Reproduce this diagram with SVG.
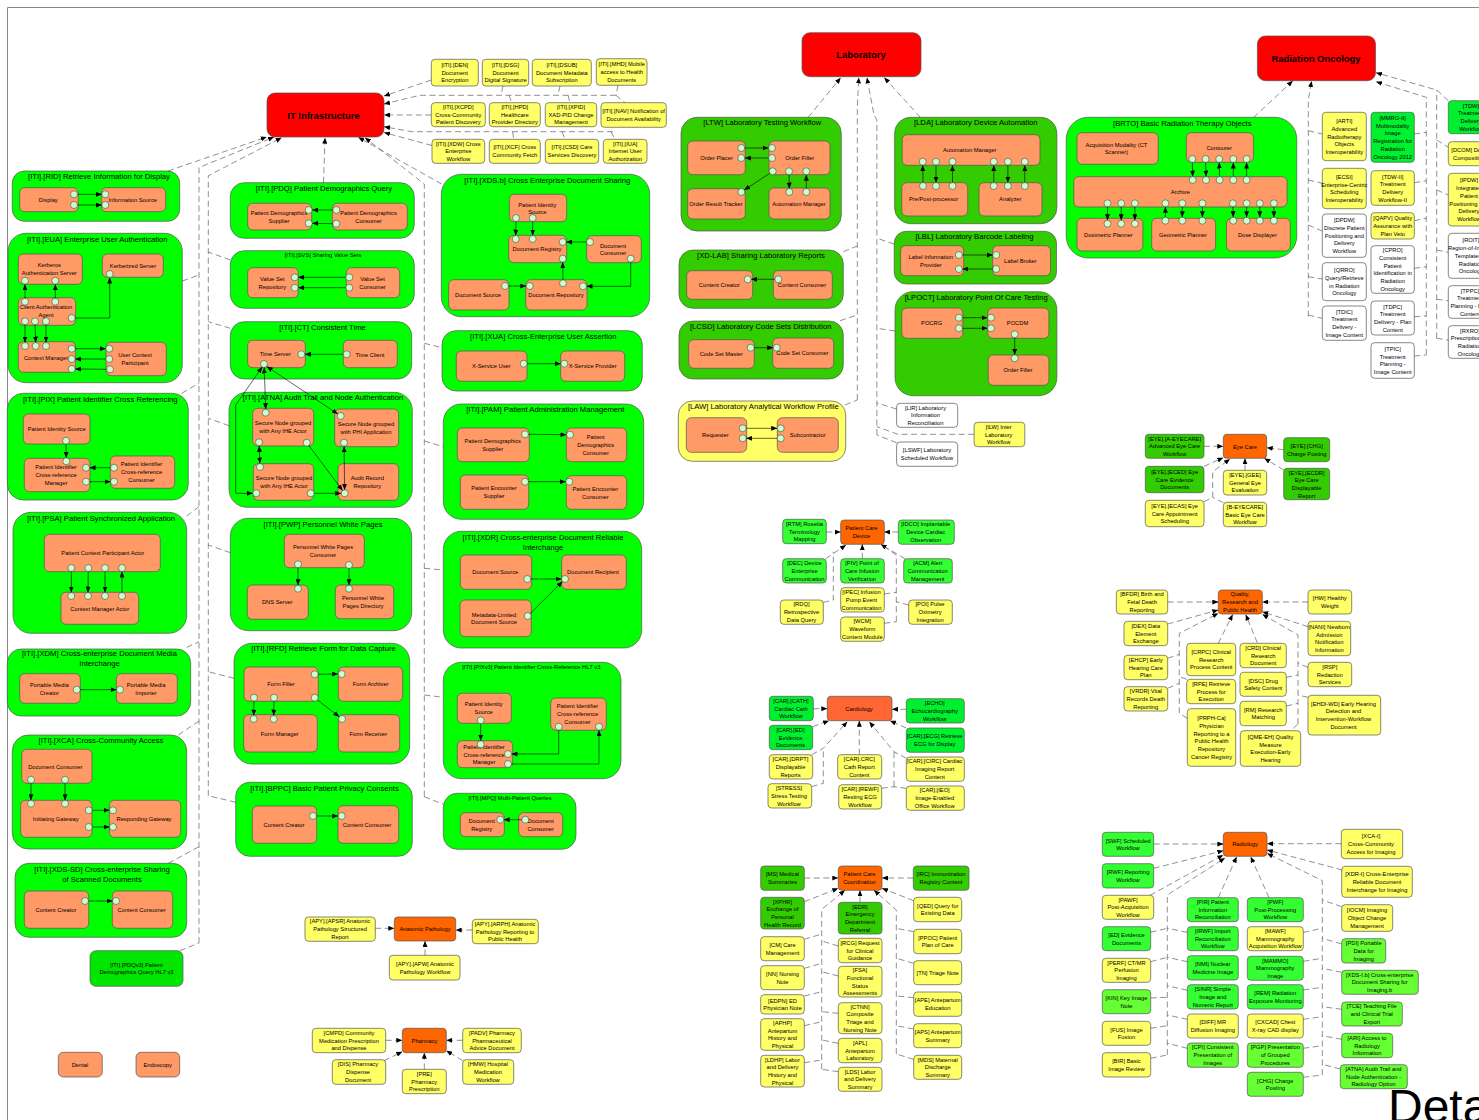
<svg xmlns="http://www.w3.org/2000/svg" width="1479" height="1120" viewBox="0 0 1479 1120">
<style>
text{font-family:"Liberation Sans",Arial,sans-serif;font-size:5.75px;text-anchor:middle;fill:#000}
.t{font-size:7.65px}
.h{font-size:9.45px;font-weight:bold}
.big{font-size:48px;text-anchor:start}
rect{stroke:#555;stroke-width:.7}
.y,.w,.lg,.lm,.dn,.gn,.or,.cr,.a{rx:3.5px}
.y{fill:#ffff66}.w{fill:#fff}.lg{fill:#33ff33}.lm{fill:#66ff33}.dn{fill:#33cc00}.gn{fill:#00f030}
.or{fill:#ff6600}.cr{fill:#ff6633}.r{fill:#ff0000;rx:8px}
.a{fill:#ff9966;rx:5px}
.G{fill:#00ff00}.D{fill:#33cc00}.Y{fill:#ffff66}
.p{fill:#ccffcc;stroke:#444;stroke-width:.6;r:3.5px}
#connectors path{fill:none}
.s{stroke:#000;stroke-width:.6;marker-end:url(#ah)}
.sb{stroke:#000;stroke-width:.6;marker-end:url(#ah);marker-start:url(#ah)}
.d{stroke:#444;stroke-width:.6;stroke-dasharray:6 3.5;marker-end:url(#ah)}
.e{stroke:#444;stroke-width:.6;stroke-dasharray:6 3.5}
</style>
<defs><marker id="ah" markerUnits="userSpaceOnUse" markerWidth="6" markerHeight="5" viewBox="0 0 6 5" refX="6" refY="2.5" orient="auto-start-reverse"><path d="M0,0L6,2.5L0,5z" fill="#000"/></marker></defs>
<path id="frame" d="M7.5,1120V7.5H1479" fill="none" stroke="#888" stroke-width="1"/>

<g id="it-infrastructure"><rect class="r" x="267" y="93" width="117" height="44"/><text class="h" x="323.5" y="118.5">IT Infrastructure</text></g>
<g id="n-DEN"><rect class="y" x="431.3" y="59.3" width="47" height="26.7"/><text x="454.8" y="67"><tspan x="454.8">[ITI].[DEN]</tspan><tspan x="454.8" dy="7.7">Document</tspan><tspan x="454.8" dy="7.7">Encryption</tspan></text></g>
<g id="n-DSG"><rect class="y" x="482.3" y="59.3" width="46.4" height="26.7"/><text x="505.5" y="67"><tspan x="505.5">[ITI].[DSG]</tspan><tspan x="505.5" dy="7.7">Document</tspan><tspan x="505.5" dy="7.7">Digital Signature</tspan></text></g>
<g id="n-DSUB"><rect class="y" x="532.3" y="59.3" width="59" height="26.7"/><text x="561.8" y="67"><tspan x="561.8">[ITI].[DSUB]</tspan><tspan x="561.8" dy="7.7">Document Metadata</tspan><tspan x="561.8" dy="7.7">Subscription</tspan></text></g>
<g id="n-MHD"><rect class="y" x="596.3" y="58.7" width="50.7" height="26.6"/><text x="621.7" y="66.3"><tspan x="621.7">[ITI].[MHD] Mobile</tspan><tspan x="621.7" dy="7.7">access to Health</tspan><tspan x="621.7" dy="7.7">Documents</tspan></text></g>
<g id="n-XCPD"><rect class="y" x="431.3" y="102.7" width="54" height="24"/><text x="458.3" y="109"><tspan x="458.3">[ITI].[XCPD]</tspan><tspan x="458.3" dy="7.7">Cross-Community</tspan><tspan x="458.3" dy="7.7">Patient Discovery</tspan></text></g>
<g id="n-HPD"><rect class="y" x="489.3" y="102.7" width="51" height="24"/><text x="514.8" y="109"><tspan x="514.8">[ITI].[HPD]</tspan><tspan x="514.8" dy="7.7">Healthcare</tspan><tspan x="514.8" dy="7.7">Provider Directory</tspan></text></g>
<g id="n-XPID"><rect class="y" x="545.3" y="102.7" width="51.4" height="24"/><text x="571" y="109"><tspan x="571">[ITI].[XPID]</tspan><tspan x="571" dy="7.7">XAD-PID Change</tspan><tspan x="571" dy="7.7">Management</tspan></text></g>
<g id="n-NAV"><rect class="y" x="601" y="102.7" width="65.3" height="24.6"/><text x="633.7" y="113.1"><tspan x="633.7">[ITI].[NAV] Notification of</tspan><tspan x="633.7" dy="7.7">Document Availability</tspan></text></g>
<g id="n-XDW"><rect class="y" x="432" y="139.3" width="52.7" height="24"/><text x="458.3" y="145.6"><tspan x="458.3">[ITI].[XDW] Cross</tspan><tspan x="458.3" dy="7.7">Enterprise</tspan><tspan x="458.3" dy="7.7">Workflow</tspan></text></g>
<g id="n-XCF"><rect class="y" x="489.3" y="139.3" width="51" height="24"/><text x="514.8" y="149.4"><tspan x="514.8">[ITI].[XCF] Cross</tspan><tspan x="514.8" dy="7.7">Community Fetch</tspan></text></g>
<g id="n-CSD"><rect class="y" x="545.3" y="139.3" width="53.4" height="24"/><text x="572" y="149.4"><tspan x="572">[ITI].[CSD] Care</tspan><tspan x="572" dy="7.7">Services Discovery</tspan></text></g>
<g id="n-IUA"><rect class="y" x="603.3" y="139.3" width="43.7" height="24"/><text x="625.2" y="145.6"><tspan x="625.2">[ITI].[IUA]</tspan><tspan x="625.2" dy="7.7">Internet User</tspan><tspan x="625.2" dy="7.7">Authorization</tspan></text></g>

<g id="n-RID"><rect class="G" x="12.3" y="171" width="167.4" height="50.3" rx="12"/><text class="t" x="99" y="179">[ITI].[RID] Retrieve Information for Display</text>
<rect class="a" x="19.7" y="187.7" width="58.6" height="24"/><text x="48.3" y="202">Display</text>
<rect class="a" x="101.3" y="187.7" width="64.4" height="24"/><text x="132.7" y="202">Information Source</text>
<circle class="p" cx="74" cy="194.3"/><circle class="p" cx="74" cy="205"/><circle class="p" cx="105.3" cy="194.3"/><circle class="p" cx="105.3" cy="205"/></g>

<g id="n-EUA"><rect class="G" x="8" y="233.3" width="174.3" height="149.4" rx="18"/><text class="t" x="97.3" y="241.7">[ITI].[EUA] Enterprise User Authentication</text>
<rect class="a" x="18.3" y="254" width="64" height="30.3"/><text x="49.3" y="267.1"><tspan x="49.3">Kerberos</tspan><tspan x="49.3" dy="7.7">Authentication Server</tspan></text>
<rect class="a" x="102.3" y="254" width="61" height="23.3"/><text x="133" y="267.7">Kerberized Server</text>
<rect class="a" x="18.3" y="297.7" width="57.4" height="27.6"/><text x="46" y="309.1"><tspan x="46">Client Authentication</tspan><tspan x="46" dy="7.7">Agent</tspan></text>
<rect class="a" x="18.3" y="341.7" width="57.4" height="30.6"/><text x="46" y="359.5">Context Manager</text>
<rect class="a" x="106" y="342.3" width="60.3" height="33.4"/><text x="135" y="357.1"><tspan x="135">User Context</tspan><tspan x="135" dy="7.7">Participant</tspan></text>
<circle class="p" cx="25" cy="280.7"/><circle class="p" cx="55.3" cy="280.7"/><circle class="p" cx="109.7" cy="274"/><circle class="p" cx="25" cy="301.7"/><circle class="p" cx="55.3" cy="301.7"/><circle class="p" cx="71.7" cy="318"/><circle class="p" cx="25" cy="321.3"/><circle class="p" cx="35" cy="321.3"/><circle class="p" cx="46" cy="321.3"/><circle class="p" cx="25" cy="346"/><circle class="p" cx="35.7" cy="346"/><circle class="p" cx="46" cy="346"/><circle class="p" cx="71.7" cy="348.7"/><circle class="p" cx="71.7" cy="359"/><circle class="p" cx="71.7" cy="369"/><circle class="p" cx="109.3" cy="348.7"/><circle class="p" cx="109.3" cy="359"/><circle class="p" cx="110" cy="369.3"/></g>

<g id="n-PIX"><rect class="G" x="7.3" y="393.3" width="181" height="106.7" rx="16"/><text class="t" x="100.3" y="401.7">[ITI].[PIX] Patient Identifier Cross Referencing</text>
<rect class="a" x="23.3" y="414" width="66.7" height="30"/><text x="56.7" y="431">Patient Identity Source</text>
<rect class="a" x="24.3" y="458.3" width="65.7" height="33.4"/><text x="56" y="469.3"><tspan x="56">Patient Identifier</tspan><tspan x="56" dy="7.7">Cross-reference</tspan><tspan x="56" dy="7.7">Manager</tspan></text>
<rect class="a" x="110.3" y="456" width="64.4" height="32.3"/><text x="141.5" y="466.3"><tspan x="141.5">Patient Identifier</tspan><tspan x="141.5" dy="7.7">Cross-reference</tspan><tspan x="141.5" dy="7.7">Consumer</tspan></text>
<circle class="p" cx="66" cy="440.7"/><circle class="p" cx="66.3" cy="461.3"/><circle class="p" cx="86" cy="467.7"/><circle class="p" cx="86" cy="481.7"/><circle class="p" cx="114" cy="467.7"/><circle class="p" cx="114" cy="481.7"/></g>

<g id="n-PSA"><rect class="G" x="13" y="512.3" width="173.7" height="121" rx="18"/><text class="t" x="101" y="521">[ITI].[PSA] Patient Synchronized Application</text>
<rect class="a" x="44.3" y="534.3" width="116" height="37.4" rx="8"/><text x="102.7" y="555.3">Patient Context Participant Actor</text>
<rect class="a" x="61" y="592.3" width="77.7" height="32"/><text x="99.7" y="610.7">Context Manager Actor</text>
<circle class="p" cx="71.3" cy="568"/><circle class="p" cx="88.3" cy="568"/><circle class="p" cx="105" cy="568"/><circle class="p" cx="122" cy="568"/><circle class="p" cx="71.3" cy="596"/><circle class="p" cx="88" cy="596"/><circle class="p" cx="105" cy="596"/><circle class="p" cx="122" cy="596"/></g>

<g id="n-XDM"><rect class="G" x="7.3" y="649" width="183.4" height="67" rx="14"/><text class="t" x="99.5" y="656"><tspan x="99.5">[ITI].[XDM] Cross-enterprise Document Media</tspan><tspan x="99.5" dy="10">Interchange</tspan></text>
<rect class="a" x="19.7" y="673.7" width="60.6" height="29.6"/><text x="49.3" y="687.1"><tspan x="49.3">Portable Media</tspan><tspan x="49.3" dy="7.7">Creator</tspan></text>
<rect class="a" x="116.3" y="673.7" width="61" height="29.6"/><text x="146" y="687.1"><tspan x="146">Portable Media</tspan><tspan x="146" dy="7.7">Importer</tspan></text>
<circle class="p" cx="76.7" cy="689.7"/><circle class="p" cx="120" cy="689.7"/></g>

<g id="n-XCA"><rect class="G" x="12.3" y="735" width="174.4" height="114" rx="16"/><text class="t" x="101" y="743.4">[ITI].[XCA] Cross-Community Access</text>
<rect class="a" x="21.7" y="749.3" width="70.3" height="34"/><text x="55.3" y="768.7">Document Consumer</text>
<rect class="a" x="20.7" y="800.3" width="71.3" height="37"/><text x="55.7" y="821">Initiating Gateway</text>
<rect class="a" x="109.3" y="800.3" width="71.4" height="37"/><text x="144" y="821">Responding Gateway</text>
<circle class="p" cx="31" cy="779.7"/><circle class="p" cx="65" cy="779.7"/><circle class="p" cx="31" cy="803.7"/><circle class="p" cx="65" cy="803.7"/><circle class="p" cx="88.7" cy="810.3"/><circle class="p" cx="88.7" cy="827"/><circle class="p" cx="113" cy="810.3"/><circle class="p" cx="113" cy="827"/></g>

<g id="n-XDSSD"><rect class="G" x="15" y="863.3" width="171.7" height="74" rx="14"/><text class="t" x="102" y="872"><tspan x="102">[ITI].[XDS-SD] Cross-enterprise Sharing</tspan><tspan x="102" dy="10">of Scanned Documents</tspan></text>
<rect class="a" x="24.3" y="891" width="64.4" height="37.3"/><text x="56" y="911.7">Content Creator</text>
<rect class="a" x="112.3" y="891" width="60.4" height="37.3"/><text x="141.7" y="912">Content Consumer</text>
<circle class="p" cx="85" cy="901"/><circle class="p" cx="116" cy="901"/></g>

<g id="n-PDQv3"><rect x="90" y="950.7" width="93" height="35.6" rx="6" fill="#00e600"/><text x="136.5" y="966.6"><tspan x="136.5">[ITI].[PDQv3] Patient</tspan><tspan x="136.5" dy="7.7">Demographics Query HL7 v3</tspan></text></g>
<g id="n-Dental"><rect class="a" x="58.3" y="1052.3" width="44" height="24.7"/><text x="80" y="1067">Dental</text></g>
<g id="n-Endoscopy"><rect class="a" x="136" y="1052.3" width="43.7" height="24.7"/><text x="157.7" y="1067">Endoscopy</text></g>

<g id="n-PDQ"><rect class="G" x="230.3" y="182.7" width="184" height="55.6" rx="14"/><text class="t" x="324" y="191">[ITI].[PDQ] Patient Demographics Query</text>
<rect class="a" x="247.7" y="203.3" width="64" height="26.7"/><text x="279" y="214.8"><tspan x="279">Patient Demographics</tspan><tspan x="279" dy="7.7">Supplier</tspan></text>
<rect class="a" x="332.3" y="203.3" width="75" height="26.7"/><text x="368.5" y="214.8"><tspan x="368.5">Patient Demographics</tspan><tspan x="368.5" dy="7.7">Consumer</tspan></text>
<circle class="p" cx="308.7" cy="210"/><circle class="p" cx="308.7" cy="223.3"/><circle class="p" cx="336.3" cy="210"/><circle class="p" cx="336.3" cy="223.7"/></g>

<g id="n-SVS"><rect class="G" x="230.3" y="250.7" width="184" height="57.6" rx="14"/><text x="323" y="257">[ITI].[SVS] Sharing Value Sets</text>
<rect class="a" x="247.7" y="267.7" width="50.6" height="30"/><text x="272.3" y="280.8"><tspan x="272.3">Value Set</tspan><tspan x="272.3" dy="7.7">Repository</tspan></text>
<rect class="a" x="346.3" y="267.7" width="53.4" height="30"/><text x="372.5" y="280.8"><tspan x="372.5">Value Set</tspan><tspan x="372.5" dy="7.7">Consumer</tspan></text>
<circle class="p" cx="294.7" cy="277.3"/><circle class="p" cx="294.7" cy="287.7"/><circle class="p" cx="349.3" cy="277.3"/><circle class="p" cx="349.3" cy="287.7"/></g>

<g id="n-CT"><rect class="G" x="230.3" y="321.7" width="181.4" height="57.3" rx="14"/><text class="t" x="322.5" y="330">[ITI].[CT] Consistent Time</text>
<rect class="a" x="247.7" y="340.3" width="57.6" height="27.4"/><text x="275.3" y="356">Time Server</text>
<rect class="a" x="343.3" y="340.3" width="54" height="27.4"/><text x="370" y="356.7">Time Client</text>
<circle class="p" cx="301.3" cy="354.3"/><circle class="p" cx="346.7" cy="354.3"/><circle class="p" cx="264" cy="364"/></g>

<g id="n-ATNA"><rect class="G" x="229" y="392.3" width="183.3" height="115" rx="18"/><text class="t" x="323" y="400">[ITI].[ATNA] Audit Trail and Node Authentication</text>
<rect class="a" x="252.7" y="408.3" width="61" height="37.7"/><text x="283" y="425.1"><tspan x="283">Secure Node grouped</tspan><tspan x="283" dy="7.7">with Any IHE Actor</tspan></text>
<rect class="a" x="334.7" y="409" width="64" height="37.7"/><text x="366" y="426.1"><tspan x="366">Secure Node grouped</tspan><tspan x="366" dy="7.7">with PHI Application</tspan></text>
<rect class="a" x="253.3" y="463.7" width="60.4" height="36.6"/><text x="284" y="480.4"><tspan x="284">Secure Node grouped</tspan><tspan x="284" dy="7.7">with Any IHE Actor</tspan></text>
<rect class="a" x="338" y="463.7" width="60.7" height="36.6"/><text x="367.3" y="480.4"><tspan x="367.3">Audit Record</tspan><tspan x="367.3" dy="7.7">Repository</tspan></text>
<circle class="p" cx="265.7" cy="412.7"/><circle class="p" cx="340.7" cy="416"/><circle class="p" cx="259" cy="442.3"/><circle class="p" cx="306.7" cy="442.7"/><circle class="p" cx="344" cy="442.7"/><circle class="p" cx="260" cy="467"/><circle class="p" cx="256.3" cy="493.3"/><circle class="p" cx="310.7" cy="493.3"/><circle class="p" cx="344.7" cy="493.3"/></g>

<g id="n-PWP"><rect class="G" x="230.3" y="518.3" width="181.4" height="112.4" rx="18"/><text class="t" x="323" y="526.7">[ITI].[PWP] Personnel White Pages</text>
<rect class="a" x="284.3" y="534.3" width="80" height="33.4"/><text x="323" y="549.1"><tspan x="323">Personnel White Pages</tspan><tspan x="323" dy="7.7">Consumer</tspan></text>
<rect class="a" x="247.3" y="585" width="61" height="34.3"/><text x="277.3" y="604">DNS Server</text>
<rect class="a" x="335.3" y="585" width="58.4" height="33.7"/><text x="363" y="600.1"><tspan x="363">Personnel White</tspan><tspan x="363" dy="7.7">Pages Directory</tspan></text>
<circle class="p" cx="298" cy="564.3"/><circle class="p" cx="349" cy="565"/><circle class="p" cx="298" cy="588.7"/><circle class="p" cx="349" cy="588.7"/></g>

<g id="n-RFD"><rect class="G" x="234" y="643.3" width="175.7" height="120.7" rx="18"/><text class="t" x="323.5" y="651.4">[ITI].[RFD] Retrieve Form for Data Capture</text>
<rect class="a" x="244" y="667" width="74.3" height="34.3"/><text x="281" y="686">Form Filler</text>
<rect class="a" x="338.3" y="667" width="64.4" height="34.3"/><text x="370.7" y="686">Form Archiver</text>
<rect class="a" x="243.7" y="714.7" width="73.6" height="37.3"/><text x="279.7" y="735.7">Form Manager</text>
<rect class="a" x="338.3" y="714.7" width="61.4" height="37.3"/><text x="368.3" y="735.7">Form Receiver</text>
<circle class="p" cx="314.7" cy="674.3"/><circle class="p" cx="341.7" cy="674"/><circle class="p" cx="254" cy="697.7"/><circle class="p" cx="274" cy="697.7"/><circle class="p" cx="314.7" cy="697.7"/><circle class="p" cx="253.7" cy="719"/><circle class="p" cx="273.7" cy="719"/><circle class="p" cx="342" cy="719"/></g>

<g id="n-BPPC"><rect class="G" x="235.7" y="782.3" width="176.6" height="74" rx="14"/><text class="t" x="324.5" y="791">[ITI].[BPPC] Basic Patient Privacy Consents</text>
<rect class="a" x="252.3" y="806" width="64.4" height="37.3"/><text x="284" y="826.7">Content Creator</text>
<rect class="a" x="338" y="805.7" width="60.7" height="37.6"/><text x="367" y="826.7">Content Consumer</text>
<circle class="p" cx="313" cy="816"/><circle class="p" cx="341.7" cy="816"/></g>

<g id="n-XDSb"><rect class="G" x="441.3" y="174.3" width="208.4" height="142.4" rx="20"/><text class="t" x="547.3" y="182.7">[ITI].[XDS.b] Cross Enterprise Document Sharing</text>
<rect class="a" x="509.3" y="194.3" width="57.4" height="27.4"/><text x="537.3" y="206.6"><tspan x="537.3">Patient Identity</tspan><tspan x="537.3" dy="7.7">Source</tspan></text>
<rect class="a" x="508.7" y="235.3" width="58" height="27.4"/><text x="537" y="251">Document Registry</text>
<rect class="a" x="586.7" y="235.7" width="54.6" height="27"/><text x="613" y="247.6"><tspan x="613">Document</tspan><tspan x="613" dy="7.7">Consumer</tspan></text>
<rect class="a" x="448.7" y="279.7" width="60.3" height="30.3"/><text x="478" y="297">Document Source</text>
<rect class="a" x="525.7" y="279.7" width="61.3" height="30.3"/><text x="556" y="297">Document Repository</text>
<circle class="p" cx="516" cy="218"/><circle class="p" cx="532.7" cy="218"/><circle class="p" cx="515.7" cy="239"/><circle class="p" cx="532.7" cy="239"/><circle class="p" cx="562.7" cy="242"/><circle class="p" cx="590" cy="242"/><circle class="p" cx="562.7" cy="258.7"/><circle class="p" cx="630.7" cy="258.7"/><circle class="p" cx="505" cy="286"/><circle class="p" cx="529.7" cy="286"/><circle class="p" cx="563" cy="283.3"/><circle class="p" cx="583" cy="286.3"/></g>

<g id="n-XUA"><rect class="G" x="442" y="330.7" width="200.3" height="60.3" rx="14"/><text class="t" x="543.3" y="338.7">[ITI].[XUA] Cross-Enterprise User Assertion</text>
<rect class="a" x="456.3" y="351" width="70.7" height="30.3"/><text x="491.3" y="368">X-Service User</text>
<rect class="a" x="560.7" y="351" width="64" height="30.3"/><text x="592.7" y="368">X-Service Provider</text>
<circle class="p" cx="523.7" cy="363.7"/><circle class="p" cx="564.3" cy="363.7"/></g>

<g id="n-PAM"><rect class="G" x="443.3" y="404" width="200.4" height="115.3" rx="18"/><text class="t" x="545.3" y="412.4">[ITI].[PAM] Patient Administration Management</text>
<rect class="a" x="457.3" y="428" width="72" height="33.7"/><text x="492.7" y="443.1"><tspan x="492.7">Patient Demographics</tspan><tspan x="492.7" dy="7.7">Supplier</tspan></text>
<rect class="a" x="566.3" y="428" width="60.4" height="33.7"/><text x="595.7" y="439.3"><tspan x="595.7">Patient</tspan><tspan x="595.7" dy="7.7">Demographics</tspan><tspan x="595.7" dy="7.7">Consumer</tspan></text>
<rect class="a" x="460.3" y="475" width="68.4" height="34.3"/><text x="494" y="490.1"><tspan x="494">Patient Encounter</tspan><tspan x="494" dy="7.7">Supplier</tspan></text>
<rect class="a" x="566.3" y="475.7" width="60.4" height="33.6"/><text x="595.3" y="490.8"><tspan x="595.3">Patient Encounter</tspan><tspan x="595.3" dy="7.7">Consumer</tspan></text>
<circle class="p" cx="525" cy="434.3"/><circle class="p" cx="570" cy="434.7"/><circle class="p" cx="525" cy="481.7"/><circle class="p" cx="569.3" cy="481.7"/></g>

<g id="n-XDR"><rect class="G" x="443.3" y="531.3" width="198.4" height="116.7" rx="18"/><text class="t" x="543" y="539.7"><tspan x="543">[ITI].[XDR] Cross-enterprise Document Reliable</tspan><tspan x="543" dy="10">Interchange</tspan></text>
<rect class="a" x="460.3" y="555" width="71.4" height="34.3"/><text x="495.3" y="574">Document Source</text>
<rect class="a" x="561.7" y="555" width="64.6" height="34.3"/><text x="593" y="574">Document Recipient</text>
<rect class="a" x="460" y="600" width="71.3" height="36.7"/><text x="494" y="616.6"><tspan x="494">Metadata-Limited</tspan><tspan x="494" dy="7.7">Document Source</tspan></text>
<circle class="p" cx="527.3" cy="579"/><circle class="p" cx="565" cy="579"/><circle class="p" cx="527.7" cy="616"/></g>

<g id="n-PIXv3"><rect class="G" x="443.3" y="662.3" width="177.7" height="116.4" rx="18"/><text x="531.3" y="668.7">[ITI].[PIXv3] Patient Identifier Cross-Reference HL7 v3</text>
<rect class="a" x="457.3" y="693.3" width="54" height="30"/><text x="483.7" y="706.1"><tspan x="483.7">Patient Identity</tspan><tspan x="483.7" dy="7.7">Source</tspan></text>
<rect class="a" x="457.3" y="740.7" width="55.4" height="27"/><text x="484" y="748.8"><tspan x="484">Patient Identifier</tspan><tspan x="484" dy="7.7">Cross-reference</tspan><tspan x="484" dy="7.7">Manager</tspan></text>
<rect class="a" x="550.7" y="698" width="55.6" height="32.3"/><text x="577.5" y="708.3"><tspan x="577.5">Patient Identifier</tspan><tspan x="577.5" dy="7.7">Cross-reference</tspan><tspan x="577.5" dy="7.7">Consumer</tspan></text>
<circle class="p" cx="480.7" cy="720.3"/><circle class="p" cx="480.7" cy="744.3"/><circle class="p" cx="508" cy="754"/><circle class="p" cx="508" cy="764"/><circle class="p" cx="558.7" cy="726.7"/><circle class="p" cx="599" cy="726.7"/></g>

<g id="n-MPQ"><rect class="G" x="443.3" y="793.3" width="132.7" height="56" rx="14"/><text x="510" y="799.7">[ITI].[MPQ] Multi-Patient Queries</text>
<rect class="a" x="460.3" y="812.7" width="44" height="24"/><text x="481.7" y="823.1"><tspan x="481.7">Document</tspan><tspan x="481.7" dy="7.7">Registry</tspan></text>
<rect class="a" x="518.7" y="812.7" width="44" height="24"/><text x="540.7" y="823.1"><tspan x="540.7">Document</tspan><tspan x="540.7" dy="7.7">Consumer</tspan></text>
<circle class="p" cx="500.3" cy="819.7"/><circle class="p" cx="525.3" cy="819.7"/></g>

<g id="laboratory"><rect class="r" x="802" y="32.7" width="119" height="44"/><text class="h" x="861" y="58.3">Laboratory</text></g>

<g id="n-LTW"><rect class="D" x="681" y="117.3" width="160.3" height="113.7" rx="16"/><text class="t" x="762.3" y="125.4">[LTW] Laboratory Testing Workflow</text>
<rect class="a" x="687.7" y="141" width="57.6" height="33.7"/><text x="716.5" y="160">Order Placer</text>
<rect class="a" x="769" y="141" width="61" height="33.7"/><text x="799.7" y="160">Order Filler</text>
<rect class="a" x="687.7" y="188.7" width="57.6" height="30.3"/><text x="716" y="205.7">Order Result Tracker</text>
<rect class="a" x="769" y="188" width="61" height="31"/><text x="799" y="205.7">Automation Manager</text>
<circle class="p" cx="741.3" cy="148"/><circle class="p" cx="741.3" cy="158"/><circle class="p" cx="772" cy="148"/><circle class="p" cx="772" cy="158"/><circle class="p" cx="772.7" cy="171.3"/><circle class="p" cx="789" cy="171.3"/><circle class="p" cx="806.3" cy="171.3"/><circle class="p" cx="741.3" cy="192"/><circle class="p" cx="789.3" cy="192"/><circle class="p" cx="806.3" cy="192"/></g>

<g id="n-XDLAB"><rect class="D" x="679" y="250" width="164.3" height="58.3" rx="14"/><text class="t" x="761" y="258.4">[XD-LAB] Sharing Laboratory Reports</text>
<rect class="a" x="686.7" y="270.7" width="66" height="28.6"/><text x="719.3" y="287">Content Creator</text>
<rect class="a" x="773.3" y="270.7" width="59" height="28.6"/><text x="802" y="287">Content Consumer</text>
<circle class="p" cx="747.7" cy="279.3"/><circle class="p" cx="778.3" cy="279.3"/></g>

<g id="n-LCSD"><rect class="D" x="679" y="321" width="164.3" height="58" rx="14"/><text class="t" x="760.7" y="329">[LCSD] Laboratory Code Sets Distribution</text>
<rect class="a" x="688.7" y="339.7" width="65.6" height="28.6"/><text x="721.3" y="356">Code Set Master</text>
<rect class="a" x="772.7" y="338" width="61" height="30.3"/><text x="802.3" y="355">Code Set Consumer</text>
<circle class="p" cx="750.7" cy="347.7"/><circle class="p" cx="776.7" cy="347.7"/></g>

<g id="n-LAW"><rect class="Y" x="678.3" y="401" width="167.4" height="60.3" rx="14"/><text class="t" x="763.3" y="409">[LAW] Laboratory Analytical Workflow Profile</text>
<rect class="a" x="686.3" y="417.7" width="60.4" height="34.6"/><text x="715.3" y="437">Requester</text>
<rect class="a" x="777.3" y="417.7" width="61" height="34.6"/><text x="807.7" y="437">Subcontractor</text>
<circle class="p" cx="742.7" cy="428.3"/><circle class="p" cx="742.7" cy="438.3"/><circle class="p" cx="780.7" cy="428.3"/><circle class="p" cx="780.7" cy="438.3"/></g>

<g id="n-LDA"><rect class="D" x="894.6" y="117.3" width="162.3" height="106.4" rx="16"/><text class="t" x="975.8" y="125.4">[LDA] Laboratory Device Automation</text>
<rect class="a" x="902.2" y="134.7" width="137.8" height="30.6" rx="7"/><text x="969.7" y="152">Automation Manager</text>
<rect class="a" x="901.8" y="182.7" width="65.9" height="33.3"/><text x="933.6" y="201.3">Pre/Post-processor</text>
<rect class="a" x="979" y="182.7" width="63" height="33.3"/><text x="1010.3" y="201.3">Analyzer</text>
<circle class="p" cx="922.7" cy="161.7"/><circle class="p" cx="936" cy="161.7"/><circle class="p" cx="952.5" cy="161.7"/><circle class="p" cx="993.8" cy="161.7"/><circle class="p" cx="1007.9" cy="161.7"/><circle class="p" cx="1024.8" cy="161.7"/><circle class="p" cx="923" cy="186"/><circle class="p" cx="936" cy="186"/><circle class="p" cx="952.5" cy="186"/><circle class="p" cx="993.8" cy="186"/><circle class="p" cx="1007.9" cy="186"/><circle class="p" cx="1024.8" cy="186"/></g>

<g id="n-LBL"><rect class="D" x="894.2" y="231.3" width="162.3" height="52.7" rx="12"/><text class="t" x="974.5" y="239.4">[LBL] Laboratory Barcode Labeling</text>
<rect class="a" x="900.6" y="245.7" width="63.1" height="30"/><text x="930.8" y="258.8"><tspan x="930.8">Label Information</tspan><tspan x="930.8" dy="7.7">Provider</tspan></text>
<rect class="a" x="992.6" y="245.7" width="57.9" height="30"/><text x="1020.4" y="262.7">Label Broker</text>
<circle class="p" cx="958.9" cy="255"/><circle class="p" cx="958.9" cy="269"/><circle class="p" cx="996.2" cy="255"/><circle class="p" cx="996.2" cy="269"/></g>

<g id="n-LPOCT"><rect class="D" x="895" y="291.7" width="161.9" height="104" rx="18"/><text class="t" x="976.2" y="300">[LPOCT] Laboratory Point Of Care Testing</text>
<rect class="a" x="901.8" y="308" width="61.1" height="30.3"/><text x="931.6" y="325">POCRG</text>
<rect class="a" x="987.8" y="308" width="61.1" height="30.3"/><text x="1017.5" y="325">POCDM</text>
<rect class="a" x="988.2" y="355" width="60.7" height="30.3"/><text x="1018" y="372">Order Filler</text>
<circle class="p" cx="958.9" cy="317.7"/><circle class="p" cx="958.9" cy="328.3"/><circle class="p" cx="991" cy="317.7"/><circle class="p" cx="991" cy="328.3"/><circle class="p" cx="1014.7" cy="334.3"/><circle class="p" cx="1014.7" cy="358.3"/></g>

<g id="n-LIR"><rect class="w" x="896.6" y="403.3" width="61.1" height="24"/><text x="925.5" y="409.6"><tspan x="925.5">[LIR] Laboratory</tspan><tspan x="925.5" dy="7.7">Information</tspan><tspan x="925.5" dy="7.7">Reconciliation</tspan></text></g>
<g id="n-ILW"><rect class="y" x="974.1" y="422.3" width="50.7" height="24.4"/><text x="998.7" y="428.8"><tspan x="998.7">[ILW] Inter</tspan><tspan x="998.7" dy="7.7">Laboratory</tspan><tspan x="998.7" dy="7.7">Workflow</tspan></text></g>
<g id="n-LSWF"><rect class="w" x="896.6" y="442" width="61.1" height="24.3"/><text x="927" y="452.2"><tspan x="927">[LSWF] Laboratory</tspan><tspan x="927" dy="7.7">Scheduled Workflow</tspan></text></g>

<g id="radiation-oncology"><rect class="r" x="1257.4" y="36" width="118.1" height="44.7"/><text class="h" x="1316" y="62">Radiation Oncology</text></g>

<g id="n-BRTO"><rect class="G" x="1066.2" y="117.3" width="230.6" height="140.7" rx="22"/><text class="t" x="1182.3" y="125.7">[BRTO] Basic Radiation Therapy Objects</text>
<rect class="a" x="1077" y="132.7" width="81.2" height="31.6"/><text x="1116.4" y="146.6"><tspan x="1116.4">Acquisition Modality (CT</tspan><tspan x="1116.4" dy="7.7">Scanner)</tspan></text>
<rect class="a" x="1186.3" y="132.7" width="67.1" height="29.6"/><text x="1219.2" y="149.7">Contourer</text>
<rect class="a" x="1073.8" y="176.7" width="213.3" height="30.3" rx="7"/><text x="1180.3" y="193.7">Archive</text>
<rect class="a" x="1077" y="218.3" width="65.9" height="32.7"/><text x="1108.3" y="236.7">Dosimetric Planner</text>
<rect class="a" x="1151.7" y="218.3" width="63.9" height="32.7"/><text x="1183" y="236.7">Geometric Planner</text>
<rect class="a" x="1226.5" y="218.3" width="63.8" height="32.7"/><text x="1257.4" y="236.7">Dose Displayer</text>
<circle class="p" cx="1192.3" cy="159"/><circle class="p" cx="1205.6" cy="159"/><circle class="p" cx="1219.2" cy="159"/><circle class="p" cx="1233.3" cy="159"/><circle class="p" cx="1246.6" cy="159"/><circle class="p" cx="1192.7" cy="180"/><circle class="p" cx="1206" cy="180"/><circle class="p" cx="1219.6" cy="180"/><circle class="p" cx="1233.3" cy="180"/><circle class="p" cx="1246.6" cy="180"/>
<circle class="p" cx="1107.5" cy="203.3"/><circle class="p" cx="1121.2" cy="203.3"/><circle class="p" cx="1134.9" cy="203.3"/><circle class="p" cx="1165.4" cy="203.3"/><circle class="p" cx="1182.3" cy="203.3"/><circle class="p" cx="1202.4" cy="203.3"/><circle class="p" cx="1232.9" cy="203.3"/><circle class="p" cx="1246.6" cy="203.3"/><circle class="p" cx="1259.8" cy="203.3"/><circle class="p" cx="1273.9" cy="203.3"/>
<circle class="p" cx="1107.5" cy="223.7"/><circle class="p" cx="1121.2" cy="223.7"/><circle class="p" cx="1134.9" cy="223.7"/><circle class="p" cx="1165.4" cy="220.7"/><circle class="p" cx="1182.3" cy="220.7"/><circle class="p" cx="1202.4" cy="220.7"/><circle class="p" cx="1233.3" cy="220.7"/><circle class="p" cx="1246.6" cy="220.7"/><circle class="p" cx="1259.8" cy="220.7"/><circle class="p" cx="1273.9" cy="220.7"/></g>

<g id="n-ARTI"><rect class="y" x="1322.3" y="112.3" width="44" height="48.4"/><text x="1344.3" y="123.1"><tspan x="1344.3">[ARTI]</tspan><tspan x="1344.3" dy="7.7">Advanced</tspan><tspan x="1344.3" dy="7.7">Radiotherapy</tspan><tspan x="1344.3" dy="7.7">Objects</tspan><tspan x="1344.3" dy="7.7">Interoperability</tspan></text></g>
<g id="n-MMRO"><rect class="gn" x="1371" y="112.3" width="43.3" height="50"/><text x="1392.7" y="120"><tspan x="1392.7">[MMRO-II]</tspan><tspan x="1392.7" dy="7.7">Multimodality</tspan><tspan x="1392.7" dy="7.7">Image</tspan><tspan x="1392.7" dy="7.7">Registration for</tspan><tspan x="1392.7" dy="7.7">Radiation</tspan><tspan x="1392.7" dy="7.7">Oncology 2012</tspan></text></g>
<g id="n-ECSI"><rect class="y" x="1322.3" y="168.3" width="44" height="40.4"/><text x="1344.3" y="179"><tspan x="1344.3">[ECSI]</tspan><tspan x="1344.3" dy="7.7">Enterprise-Centric</tspan><tspan x="1344.3" dy="7.7">Scheduling</tspan><tspan x="1344.3" dy="7.7">Interoperability</tspan></text></g>
<g id="n-TDWII"><rect class="y" x="1371" y="170.7" width="43.3" height="34.6"/><text x="1392.7" y="178.5"><tspan x="1392.7">[TDW-II]</tspan><tspan x="1392.7" dy="7.7">Treatment</tspan><tspan x="1392.7" dy="7.7">Delivery</tspan><tspan x="1392.7" dy="7.7">Workflow-II</tspan></text></g>
<g id="n-DPDW"><rect class="w" x="1322.3" y="214" width="44" height="43.3"/><text x="1344.3" y="222.3"><tspan x="1344.3">[DPDW]</tspan><tspan x="1344.3" dy="7.7">Discrete Patient</tspan><tspan x="1344.3" dy="7.7">Positioning and</tspan><tspan x="1344.3" dy="7.7">Delivery</tspan><tspan x="1344.3" dy="7.7">Workflow</tspan></text></g>
<g id="n-QAPV"><rect class="y" x="1371" y="212.7" width="43.3" height="26.3"/><text x="1392.7" y="220.1"><tspan x="1392.7">[QAPV] Quality</tspan><tspan x="1392.7" dy="7.7">Assurance with</tspan><tspan x="1392.7" dy="7.7">Plan Veto</tspan></text></g>
<g id="n-CPRO"><rect class="w" x="1371" y="245.7" width="43.3" height="47.6"/><text x="1392.7" y="252.2"><tspan x="1392.7">[CPRO]</tspan><tspan x="1392.7" dy="7.7">Consistent</tspan><tspan x="1392.7" dy="7.7">Patient</tspan><tspan x="1392.7" dy="7.7">Identification in</tspan><tspan x="1392.7" dy="7.7">Radiation</tspan><tspan x="1392.7" dy="7.7">Oncology</tspan></text></g>
<g id="n-QRRO"><rect class="w" x="1322.3" y="262.7" width="44" height="38"/><text x="1344.3" y="272.1"><tspan x="1344.3">[QRRO]</tspan><tspan x="1344.3" dy="7.7">Query/Retrieve</tspan><tspan x="1344.3" dy="7.7">in Radiation</tspan><tspan x="1344.3" dy="7.7">Oncology</tspan></text></g>
<g id="n-TDIC"><rect class="w" x="1322.3" y="306" width="44" height="34.3"/><text x="1344.3" y="313.6"><tspan x="1344.3">[TDIC]</tspan><tspan x="1344.3" dy="7.7">Treatment</tspan><tspan x="1344.3" dy="7.7">Delivery -</tspan><tspan x="1344.3" dy="7.7">Image Content</tspan></text></g>
<g id="n-TDPC"><rect class="w" x="1371" y="301" width="43.3" height="34"/><text x="1392.7" y="308.5"><tspan x="1392.7">[TDPC]</tspan><tspan x="1392.7" dy="7.7">Treatment</tspan><tspan x="1392.7" dy="7.7">Delivery - Plan</tspan><tspan x="1392.7" dy="7.7">Content</tspan></text></g>
<g id="n-TPIC"><rect class="w" x="1371" y="342.7" width="43.3" height="35.6"/><text x="1392.7" y="351"><tspan x="1392.7">[TPIC]</tspan><tspan x="1392.7" dy="7.7">Treatment</tspan><tspan x="1392.7" dy="7.7">Planning -</tspan><tspan x="1392.7" dy="7.7">Image Content</tspan></text></g>
<g id="n-TDW"><rect class="gn" x="1448.3" y="100.7" width="46" height="33"/><text x="1471" y="107.6"><tspan x="1471">[TDW]</tspan><tspan x="1471" dy="7.7">Treatment</tspan><tspan x="1471" dy="7.7">Delivery</tspan><tspan x="1471" dy="7.7">Workflow</tspan></text></g>
<g id="n-DCOM"><rect class="y" x="1448.3" y="141.7" width="46" height="24"/><text style="text-anchor:start" x="1451.3" y="151.8"><tspan x="1451.3">[DCOM] Dose</tspan><tspan x="1453" dy="7.7">Compositing</tspan></text></g>
<g id="n-IPDW"><rect class="y" x="1448.3" y="173.3" width="46" height="52.7"/><text x="1469" y="182.4"><tspan x="1469">[IPDW]</tspan><tspan x="1469" dy="7.7">Integrated</tspan><tspan x="1469" dy="7.7">Patient</tspan><tspan x="1469" dy="7.7">Positioning and</tspan><tspan x="1469" dy="7.7">Delivery</tspan><tspan x="1469" dy="7.7">Workflow</tspan></text></g>
<g id="n-ROIT"><rect class="w" x="1448.3" y="233.3" width="46" height="45"/><text x="1471" y="242.4"><tspan x="1471">[ROIT]</tspan><tspan x="1471" dy="7.7">Region-of-Interest</tspan><tspan x="1471" dy="7.7">Templates in</tspan><tspan x="1471" dy="7.7">Radiation</tspan><tspan x="1471" dy="7.7">Oncology</tspan></text></g>
<g id="n-TPPC"><rect class="w" x="1448.3" y="285.7" width="46" height="32.6"/><text x="1470" y="292.5"><tspan x="1470">[TPPC]</tspan><tspan x="1470" dy="7.7">Treatment</tspan><tspan x="1470" dy="7.7">Planning - Plan</tspan><tspan x="1470" dy="7.7">Content</tspan></text></g>
<g id="n-RXRO"><rect class="w" x="1448.3" y="325.7" width="46" height="32.6"/><text x="1470" y="332.5"><tspan x="1470">[RXRO]</tspan><tspan x="1470" dy="7.7">Prescription for</tspan><tspan x="1470" dy="7.7">Radiation</tspan><tspan x="1470" dy="7.7">Oncology</tspan></text></g>

<g id="eye-care"><rect class="or" x="1223.3" y="434.3" width="43.4" height="24"/><text x="1245" y="448.7">Eye Care</text></g>
<g id="n-AEYE"><rect class="dn" x="1145.3" y="434.3" width="58.7" height="24"/><text x="1174.7" y="440.6"><tspan x="1174.7">[EYE].[A-EYECARE]</tspan><tspan x="1174.7" dy="7.7">Advanced Eye Care</tspan><tspan x="1174.7" dy="7.7">Workflow</tspan></text></g>
<g id="n-ECED"><rect class="dn" x="1145.3" y="466.3" width="58.7" height="26.4"/><text x="1174.7" y="473.8"><tspan x="1174.7">[EYE].[ECED] Eye</tspan><tspan x="1174.7" dy="7.7">Care Evidence</tspan><tspan x="1174.7" dy="7.7">Documents</tspan></text></g>
<g id="n-ECAS"><rect class="y" x="1145.3" y="500.3" width="58.7" height="26.4"/><text x="1174.7" y="507.8"><tspan x="1174.7">[EYE].[ECAS] Eye</tspan><tspan x="1174.7" dy="7.7">Care Appointment</tspan><tspan x="1174.7" dy="7.7">Scheduling</tspan></text></g>
<g id="n-GEE"><rect class="y" x="1223.3" y="470.3" width="43.4" height="24.7"/><text x="1245" y="477"><tspan x="1245">[EYE].[GEE]</tspan><tspan x="1245" dy="7.7">General Eye</tspan><tspan x="1245" dy="7.7">Evaluation</tspan></text></g>
<g id="n-BEYE"><rect class="y" x="1223.3" y="502.3" width="43.4" height="24.4"/><text x="1245" y="508.8"><tspan x="1245">[B-EYECARE]</tspan><tspan x="1245" dy="7.7">Basic Eye Care</tspan><tspan x="1245" dy="7.7">Workflow</tspan></text></g>
<g id="n-ECHG"><rect class="dn" x="1283.7" y="437.7" width="46" height="24"/><text x="1306.7" y="447.9"><tspan x="1306.7">[EYE].[CHG]</tspan><tspan x="1306.7" dy="7.7">Charge Posting</tspan></text></g>
<g id="n-ECDR"><rect class="dn" x="1283.7" y="468.3" width="46" height="31.4"/><text x="1306.7" y="474.5"><tspan x="1306.7">[EYE].[ECDR]</tspan><tspan x="1306.7" dy="7.7">Eye Care</tspan><tspan x="1306.7" dy="7.7">Displayable</tspan><tspan x="1306.7" dy="7.7">Report</tspan></text></g>

<g id="quality"><rect class="or" x="1218.3" y="590" width="44" height="24"/><text x="1240" y="596.3"><tspan x="1240">Quality,</tspan><tspan x="1240" dy="7.7">Research and</tspan><tspan x="1240" dy="7.7">Public Health</tspan></text></g>
<g id="n-BFDR"><rect class="y" x="1116.3" y="590" width="51.4" height="24"/><text x="1142" y="596.3"><tspan x="1142">[BFDR] Birth and</tspan><tspan x="1142" dy="7.7">Fetal Death</tspan><tspan x="1142" dy="7.7">Reporting</tspan></text></g>
<g id="n-HW"><rect class="y" x="1308" y="590" width="43.7" height="24"/><text x="1329.8" y="600.2"><tspan x="1329.8">[HW] Healthy</tspan><tspan x="1329.8" dy="7.7">Weight</tspan></text></g>
<g id="n-DEX"><rect class="y" x="1124" y="621.3" width="43.7" height="24.4"/><text x="1145.8" y="627.8"><tspan x="1145.8">[DEX] Data</tspan><tspan x="1145.8" dy="7.7">Element</tspan><tspan x="1145.8" dy="7.7">Exchange</tspan></text></g>
<g id="n-NANI"><rect class="y" x="1308" y="621.3" width="42.7" height="34.4"/><text x="1329.3" y="628.9"><tspan x="1329.3">[NANI] Newborn</tspan><tspan x="1329.3" dy="7.7">Admission</tspan><tspan x="1329.3" dy="7.7">Notification</tspan><tspan x="1329.3" dy="7.7">Information</tspan></text></g>
<g id="n-EHCP"><rect class="y" x="1124" y="655.3" width="43.7" height="24.4"/><text x="1145.8" y="661.8"><tspan x="1145.8">[EHCP] Early</tspan><tspan x="1145.8" dy="7.7">Hearing Care</tspan><tspan x="1145.8" dy="7.7">Plan</tspan></text></g>
<g id="n-RSP"><rect class="y" x="1308" y="662.3" width="43.7" height="24.4"/><text x="1329.8" y="668.8"><tspan x="1329.8">[RSP]</tspan><tspan x="1329.8" dy="7.7">Redaction</tspan><tspan x="1329.8" dy="7.7">Services</tspan></text></g>
<g id="n-VRDR"><rect class="y" x="1124" y="686.7" width="43.7" height="24.3"/><text x="1145.8" y="693.1"><tspan x="1145.8">[VRDR] Vital</tspan><tspan x="1145.8" dy="7.7">Records Death</tspan><tspan x="1145.8" dy="7.7">Reporting</tspan></text></g>
<g id="n-CRPC"><rect class="y" x="1186.7" y="643.3" width="49" height="32.4"/><text x="1211.2" y="653.8"><tspan x="1211.2">[CRPC] Clinical</tspan><tspan x="1211.2" dy="7.7">Research</tspan><tspan x="1211.2" dy="7.7">Process Content</tspan></text></g>
<g id="n-CRD"><rect class="y" x="1240" y="643.3" width="46.3" height="24.4"/><text x="1263.2" y="649.8"><tspan x="1263.2">[CRD] Clinical</tspan><tspan x="1263.2" dy="7.7">Research</tspan><tspan x="1263.2" dy="7.7">Document</tspan></text></g>
<g id="n-RPE"><rect class="y" x="1186.7" y="679.3" width="49" height="24.4"/><text x="1211.2" y="685.8"><tspan x="1211.2">[RPE] Retrieve</tspan><tspan x="1211.2" dy="7.7">Process for</tspan><tspan x="1211.2" dy="7.7">Execution</tspan></text></g>
<g id="n-DSC"><rect class="y" x="1240" y="672.3" width="46.3" height="24"/><text x="1263.2" y="682.5"><tspan x="1263.2">[DSC] Drug</tspan><tspan x="1263.2" dy="7.7">Safety Content</tspan></text></g>
<g id="n-RM"><rect class="y" x="1240" y="701.3" width="46.3" height="24.4"/><text x="1263.2" y="711.7"><tspan x="1263.2">[RM] Research</tspan><tspan x="1263.2" dy="7.7">Matching</tspan></text></g>
<g id="n-PRPH"><rect class="y" x="1187.3" y="708.7" width="48.4" height="57.6"/><text x="1211.5" y="720.2"><tspan x="1211.5">[PRPH-Ca]</tspan><tspan x="1211.5" dy="7.7">Physician</tspan><tspan x="1211.5" dy="7.7">Reporting to a</tspan><tspan x="1211.5" dy="7.7">Public Health</tspan><tspan x="1211.5" dy="7.7">Repository</tspan><tspan x="1211.5" dy="7.7">Cancer Registry</tspan></text></g>
<g id="n-QME"><rect class="y" x="1240.3" y="730.7" width="60.4" height="35.6"/><text x="1270.5" y="739"><tspan x="1270.5">[QME-EH] Quality</tspan><tspan x="1270.5" dy="7.7">Measure</tspan><tspan x="1270.5" dy="7.7">Execution-Early</tspan><tspan x="1270.5" dy="7.7">Hearing</tspan></text></g>
<g id="n-EHDI"><rect class="y" x="1308" y="695.3" width="72.7" height="39.7"/><text x="1343.5" y="705.6"><tspan x="1343.5">[EHDI-WD] Early Hearing</tspan><tspan x="1343.5" dy="7.7">Detection and</tspan><tspan x="1343.5" dy="7.7">Intervention-Workflow</tspan><tspan x="1343.5" dy="7.7">Document</tspan></text></g>

<g id="radiology"><rect class="or" x="1223.3" y="832.3" width="43.7" height="24"/><text x="1245" y="846.3">Radiology</text></g>
<g id="n-SWF"><rect class="lg" x="1102.3" y="832.3" width="51.4" height="24"/><text x="1128" y="842.5"><tspan x="1128">[SWF] Scheduled</tspan><tspan x="1128" dy="7.7">Workflow</tspan></text></g>
<g id="n-RWF"><rect class="lg" x="1102.3" y="863.7" width="51.4" height="24.3"/><text x="1128" y="874"><tspan x="1128">[RWF] Reporting</tspan><tspan x="1128" dy="7.7">Workflow</tspan></text></g>
<g id="n-PAWF"><rect class="y" x="1102.3" y="895.3" width="51.4" height="24"/><text x="1128" y="901.6"><tspan x="1128">[PAWF]</tspan><tspan x="1128" dy="7.7">Post-Acquisition</tspan><tspan x="1128" dy="7.7">Workflow</tspan></text></g>
<g id="n-RED"><rect class="lg" x="1102.3" y="926.7" width="48.4" height="24"/><text x="1126.5" y="936.9"><tspan x="1126.5">[ED] Evidence</tspan><tspan x="1126.5" dy="7.7">Documents</tspan></text></g>
<g id="n-PERF"><rect class="y" x="1102.3" y="958.3" width="48.4" height="24"/><text x="1126.5" y="964.6"><tspan x="1126.5">[PERF] CT/MR</tspan><tspan x="1126.5" dy="7.7">Perfusion</tspan><tspan x="1126.5" dy="7.7">Imaging</tspan></text></g>
<g id="n-KIN"><rect class="lm" x="1102.3" y="989.7" width="48.4" height="24"/><text x="1126.5" y="999.9"><tspan x="1126.5">[KIN] Key Image</tspan><tspan x="1126.5" dy="7.7">Note</tspan></text></g>
<g id="n-FUS"><rect class="y" x="1102.3" y="1021.3" width="48.4" height="24"/><text x="1126.5" y="1031.5"><tspan x="1126.5">[FUS] Image</tspan><tspan x="1126.5" dy="7.7">Fusion</tspan></text></g>
<g id="n-BIR"><rect class="y" x="1102.3" y="1052.7" width="48.4" height="24.3"/><text x="1126.5" y="1063"><tspan x="1126.5">[BIR] Basic</tspan><tspan x="1126.5" dy="7.7">Image Review</tspan></text></g>
<g id="n-PIR"><rect class="lg" x="1187.3" y="897.7" width="51" height="24"/><text x="1212.8" y="904"><tspan x="1212.8">[PIR] Patient</tspan><tspan x="1212.8" dy="7.7">Information</tspan><tspan x="1212.8" dy="7.7">Reconciliation</tspan></text></g>
<g id="n-IRWF"><rect class="lg" x="1187.3" y="926.7" width="51" height="24"/><text x="1212.8" y="933"><tspan x="1212.8">[IRWF] Import</tspan><tspan x="1212.8" dy="7.7">Reconciliation</tspan><tspan x="1212.8" dy="7.7">Workflow</tspan></text></g>
<g id="n-NMI"><rect class="lg" x="1187.3" y="955.7" width="51" height="24.3"/><text x="1212.8" y="966"><tspan x="1212.8">[NMI] Nuclear</tspan><tspan x="1212.8" dy="7.7">Medicine Image</tspan></text></g>
<g id="n-SINR"><rect class="lg" x="1187.3" y="984.7" width="51" height="24.3"/><text x="1212.8" y="991.1"><tspan x="1212.8">[SINR] Simple</tspan><tspan x="1212.8" dy="7.7">Image and</tspan><tspan x="1212.8" dy="7.7">Numeric Report</tspan></text></g>
<g id="n-DIFF"><rect class="y" x="1187.3" y="1014" width="51" height="24"/><text x="1212.8" y="1024.2"><tspan x="1212.8">[DIFF] MR</tspan><tspan x="1212.8" dy="7.7">Diffusion Imaging</tspan></text></g>
<g id="n-CPI"><rect class="lm" x="1187.3" y="1043" width="51" height="24.3"/><text x="1212.8" y="1049.4"><tspan x="1212.8">[CPI] Consistent</tspan><tspan x="1212.8" dy="7.7">Presentation of</tspan><tspan x="1212.8" dy="7.7">Images</tspan></text></g>
<g id="n-PWF"><rect class="lg" x="1247.3" y="897.7" width="56" height="24"/><text x="1275.3" y="904"><tspan x="1275.3">[PWF]</tspan><tspan x="1275.3" dy="7.7">Post-Processing</tspan><tspan x="1275.3" dy="7.7">Workflow</tspan></text></g>
<g id="n-MAWF"><rect class="y" x="1247.3" y="926.7" width="56" height="24"/><text x="1275.3" y="933"><tspan x="1275.3">[MAWF]</tspan><tspan x="1275.3" dy="7.7">Mammography</tspan><tspan x="1275.3" dy="7.7">Acquisition Workflow</tspan></text></g>
<g id="n-MAMMO"><rect class="lg" x="1247.3" y="956.3" width="56" height="24"/><text x="1275.3" y="962.6"><tspan x="1275.3">[MAMMO]</tspan><tspan x="1275.3" dy="7.7">Mammography</tspan><tspan x="1275.3" dy="7.7">Image</tspan></text></g>
<g id="n-REM"><rect class="lg" x="1247.3" y="984.7" width="56" height="24.3"/><text x="1275.3" y="995"><tspan x="1275.3">[REM] Radiation</tspan><tspan x="1275.3" dy="7.7">Exposure Monitoring</tspan></text></g>
<g id="n-CXCAD"><rect class="y" x="1247.3" y="1014" width="56" height="24"/><text x="1275.3" y="1024.2"><tspan x="1275.3">[CXCAD] Chest</tspan><tspan x="1275.3" dy="7.7">X-ray CAD display</tspan></text></g>
<g id="n-PGP"><rect class="lm" x="1247.3" y="1043" width="56" height="24.3"/><text x="1275.3" y="1049.4"><tspan x="1275.3">[PGP] Presentation</tspan><tspan x="1275.3" dy="7.7">of Grouped</tspan><tspan x="1275.3" dy="7.7">Procedures</tspan></text></g>
<g id="n-RCHG"><rect class="lm" x="1247.3" y="1072.3" width="56" height="24"/><text x="1275.3" y="1082.5"><tspan x="1275.3">[CHG] Charge</tspan><tspan x="1275.3" dy="7.7">Posting</tspan></text></g>
<g id="n-XCAI"><rect class="y" x="1341.3" y="829.3" width="61.4" height="29.4"/><text x="1371" y="838.3"><tspan x="1371">[XCA-I]</tspan><tspan x="1371" dy="7.7">Cross-Community</tspan><tspan x="1371" dy="7.7">Access for Imaging</tspan></text></g>
<g id="n-XDRI"><rect class="y" x="1341.7" y="866.3" width="70.6" height="31"/><text x="1377" y="876.1"><tspan x="1377">[XDR-I] Cross-Enterprise</tspan><tspan x="1377" dy="7.7">Reliable Document</tspan><tspan x="1377" dy="7.7">Interchange for Imaging</tspan></text></g>
<g id="n-IOCM"><rect class="y" x="1341.7" y="904.7" width="51" height="26.6"/><text x="1367" y="912.3"><tspan x="1367">[IOCM] Imaging</tspan><tspan x="1367" dy="7.7">Object Change</tspan><tspan x="1367" dy="7.7">Management</tspan></text></g>
<g id="n-PDI"><rect class="lm" x="1341.7" y="938.7" width="44" height="24.3"/><text x="1363.7" y="945.1"><tspan x="1363.7">[PDI] Portable</tspan><tspan x="1363.7" dy="7.7">Data for</tspan><tspan x="1363.7" dy="7.7">Imaging</tspan></text></g>
<g id="n-XDSI"><rect class="lm" x="1341.7" y="970.3" width="76.6" height="24"/><text x="1379.7" y="976.6"><tspan x="1379.7">[XDS-I.b] Cross-enterprise</tspan><tspan x="1379.7" dy="7.7">Document Sharing for</tspan><tspan x="1379.7" dy="7.7">Imaging.b</tspan></text></g>
<g id="n-TCE"><rect class="lm" x="1341.7" y="1002" width="60.6" height="24"/><text x="1371.8" y="1008.3"><tspan x="1371.8">[TCE] Teaching File</tspan><tspan x="1371.8" dy="7.7">and Clinical Trial</tspan><tspan x="1371.8" dy="7.7">Export</tspan></text></g>
<g id="n-ARI"><rect class="lm" x="1341.7" y="1033.3" width="51" height="24.4"/><text x="1367" y="1039.8"><tspan x="1367">[ARI] Access to</tspan><tspan x="1367" dy="7.7">Radiology</tspan><tspan x="1367" dy="7.7">Information</tspan></text></g>
<g id="n-RATNA"><rect class="lm" x="1340.3" y="1064.7" width="67" height="24"/><text x="1373.5" y="1071"><tspan x="1373.5">[ATNA] Audit Trail and</tspan><tspan x="1373.5" dy="7.7">Node Authentication -</tspan><tspan x="1373.5" dy="7.7">Radiology Option</tspan></text></g>

<g id="patient-care-device"><rect class="or" x="840.7" y="520" width="43.6" height="24.3"/><text x="861.5" y="530.3"><tspan x="861.5">Patient Care</tspan><tspan x="861.5" dy="7.7">Device</tspan></text></g>
<g id="n-RTM"><rect class="lg" x="782.7" y="519.3" width="43.6" height="24.4"/><text x="804.5" y="525.8"><tspan x="804.5">[RTM] Rosetta</tspan><tspan x="804.5" dy="7.7">Terminology</tspan><tspan x="804.5" dy="7.7">Mapping</tspan></text></g>
<g id="n-IDCO"><rect class="lg" x="898.3" y="520" width="56" height="24.3"/><text x="925.7" y="526.4"><tspan x="925.7">[IDCO] Implantable</tspan><tspan x="925.7" dy="7.7">Device Cardiac</tspan><tspan x="925.7" dy="7.7">Observation</tspan></text></g>
<g id="n-DEC"><rect class="lg" x="782.7" y="558.7" width="43.6" height="24.3"/><text x="804.5" y="565.1"><tspan x="804.5">[DEC] Device</tspan><tspan x="804.5" dy="7.7">Enterprise</tspan><tspan x="804.5" dy="7.7">Communication</tspan></text></g>
<g id="n-PIV"><rect class="lg" x="840.7" y="558.7" width="43.6" height="24.3"/><text x="862" y="565.1"><tspan x="862">[PIV] Point of</tspan><tspan x="862" dy="7.7">Care Infusion</tspan><tspan x="862" dy="7.7">Verification</tspan></text></g>
<g id="n-ACM"><rect class="lg" x="903.7" y="558.7" width="48.6" height="24.3"/><text x="927.7" y="565.1"><tspan x="927.7">[ACM] Alert</tspan><tspan x="927.7" dy="7.7">Communication</tspan><tspan x="927.7" dy="7.7">Management</tspan></text></g>
<g id="n-IPEC"><rect class="y" x="840.7" y="587.7" width="43.6" height="24.3"/><text x="861.5" y="594.1"><tspan x="861.5">[IPEC] Infusion</tspan><tspan x="861.5" dy="7.7">Pump Event</tspan><tspan x="861.5" dy="7.7">Communication</tspan></text></g>
<g id="n-RDQ"><rect class="y" x="780.3" y="600" width="43" height="24.3"/><text x="801.5" y="606.4"><tspan x="801.5">[RDQ]</tspan><tspan x="801.5" dy="7.7">Retrospective</tspan><tspan x="801.5" dy="7.7">Data Query</tspan></text></g>
<g id="n-POI"><rect class="y" x="908.7" y="600" width="43.6" height="24.3"/><text x="930" y="606.4"><tspan x="930">[POI] Pulse</tspan><tspan x="930" dy="7.7">Oximetry</tspan><tspan x="930" dy="7.7">Integration</tspan></text></g>
<g id="n-WCM"><rect class="y" x="840.7" y="617" width="43.6" height="24.3"/><text x="862.3" y="623.4"><tspan x="862.3">[WCM]</tspan><tspan x="862.3" dy="7.7">Waveform</tspan><tspan x="862.3" dy="7.7">Content Module</tspan></text></g>

<g id="cardiology"><rect class="cr" x="827.3" y="696.3" width="64.7" height="24.4"/><text x="859" y="711.2">Cardiology</text></g>
<g id="n-CATH"><rect class="gn" x="769.3" y="696.3" width="44" height="24.4"/><text x="791" y="702.8"><tspan x="791">[CAR].[CATH]</tspan><tspan x="791" dy="7.7">Cardiac Cath</tspan><tspan x="791" dy="7.7">Workflow</tspan></text></g>
<g id="n-CED"><rect class="gn" x="769.3" y="725.3" width="43.4" height="24.4"/><text x="790.5" y="731.8"><tspan x="790.5">[CAR].[ED]</tspan><tspan x="790.5" dy="7.7">Evidence</tspan><tspan x="790.5" dy="7.7">Documents</tspan></text></g>
<g id="n-DRPT"><rect class="y" x="769.3" y="754.7" width="43.4" height="24.3"/><text x="790.5" y="761.1"><tspan x="790.5">[CAR].[DRPT]</tspan><tspan x="790.5" dy="7.7">Displayable</tspan><tspan x="790.5" dy="7.7">Reports</tspan></text></g>
<g id="n-STRESS"><rect class="y" x="768" y="783.7" width="43.7" height="24.3"/><text x="789" y="790.1"><tspan x="789">[STRESS]</tspan><tspan x="789" dy="7.7">Stress Testing</tspan><tspan x="789" dy="7.7">Workflow</tspan></text></g>
<g id="n-CRC"><rect class="y" x="837.7" y="754.7" width="44" height="24.3"/><text x="859.3" y="761.1"><tspan x="859.3">[CAR].CRC]</tspan><tspan x="859.3" dy="7.7">Cath Report</tspan><tspan x="859.3" dy="7.7">Content</tspan></text></g>
<g id="n-REWF"><rect class="y" x="838.7" y="784.7" width="43" height="24.3"/><text x="860" y="791.1"><tspan x="860">[CAR].[REWF]</tspan><tspan x="860" dy="7.7">Resting ECG</tspan><tspan x="860" dy="7.7">Workflow</tspan></text></g>
<g id="n-ECHO"><rect class="gn" x="906.3" y="698.7" width="58" height="24.3"/><text x="934.7" y="705.1"><tspan x="934.7">[ECHO]</tspan><tspan x="934.7" dy="7.7">Echocardiography</tspan><tspan x="934.7" dy="7.7">Workflow</tspan></text></g>
<g id="n-ECG"><rect class="gn" x="906.3" y="728" width="58" height="24.3"/><text x="934.7" y="738.3"><tspan x="934.7">[CAR].[ECG] Retrieve</tspan><tspan x="934.7" dy="7.7">ECG for Display</tspan></text></g>
<g id="n-CIRC"><rect class="y" x="906.3" y="757" width="58" height="24.3"/><text x="934.7" y="763.4"><tspan x="934.7">[CAR].[CIRC] Cardiac</tspan><tspan x="934.7" dy="7.7">Imaging Report</tspan><tspan x="934.7" dy="7.7">Content</tspan></text></g>
<g id="n-IEO"><rect class="y" x="906.3" y="786" width="58" height="24.3"/><text x="934.7" y="792.4"><tspan x="934.7">[CAR].[IEO]</tspan><tspan x="934.7" dy="7.7">Image-Enabled</tspan><tspan x="934.7" dy="7.7">Office Workflow</tspan></text></g>

<g id="patient-care-coordination"><rect class="or" x="838.3" y="866" width="43.7" height="24.3"/><text x="859.5" y="876.3"><tspan x="859.5">Patient Care</tspan><tspan x="859.5" dy="7.7">Coordination</tspan></text></g>
<g id="n-MS"><rect class="dn" x="760.7" y="866" width="43.6" height="24.3"/><text x="782.5" y="876.3"><tspan x="782.5">[MS] Medical</tspan><tspan x="782.5" dy="7.7">Summaries</tspan></text></g>
<g id="n-IRC"><rect class="dn" x="913.3" y="866" width="55.7" height="24.3"/><text x="941" y="876.3"><tspan x="941">[IRC] Immunization</tspan><tspan x="941" dy="7.7">Registry Content</tspan></text></g>
<g id="n-XPHR"><rect class="dn" x="760.7" y="897.3" width="43.6" height="31.7"/><text x="782.5" y="903.6"><tspan x="782.5">[XPHR]</tspan><tspan x="782.5" dy="7.7">Exchange of</tspan><tspan x="782.5" dy="7.7">Personal</tspan><tspan x="782.5" dy="7.7">Health Record</tspan></text></g>
<g id="n-EDR"><rect class="dn" x="838.3" y="902.3" width="43.7" height="31.7"/><text x="860" y="908.6"><tspan x="860">[EDR]</tspan><tspan x="860" dy="7.7">Emergency</tspan><tspan x="860" dy="7.7">Department</tspan><tspan x="860" dy="7.7">Referral</tspan></text></g>
<g id="n-QED"><rect class="y" x="913.7" y="897.3" width="48" height="24.4"/><text x="937.7" y="907.7"><tspan x="937.7">[QED] Query for</tspan><tspan x="937.7" dy="7.7">Existing Data</tspan></text></g>
<g id="n-CM"><rect class="y" x="760.7" y="936.7" width="43.6" height="24"/><text x="782.5" y="946.9"><tspan x="782.5">[CM] Care</tspan><tspan x="782.5" dy="7.7">Management</tspan></text></g>
<g id="n-RCG"><rect class="y" x="838.3" y="938.3" width="43.7" height="24.4"/><text x="860" y="944.8"><tspan x="860">[RCG] Request</tspan><tspan x="860" dy="7.7">for Clinical</tspan><tspan x="860" dy="7.7">Guidance</tspan></text></g>
<g id="n-PPOC"><rect class="y" x="913.7" y="929.3" width="48" height="24.4"/><text x="937.7" y="939.7"><tspan x="937.7">[PPOC] Patient</tspan><tspan x="937.7" dy="7.7">Plan of Care</tspan></text></g>
<g id="n-NN"><rect class="y" x="760.7" y="965.7" width="43.6" height="24"/><text x="782.5" y="975.9"><tspan x="782.5">[NN] Nursing</tspan><tspan x="782.5" dy="7.7">Note</tspan></text></g>
<g id="n-FSA"><rect class="y" x="838.3" y="966.3" width="43.7" height="30.7"/><text x="860" y="972.1"><tspan x="860">[FSA]</tspan><tspan x="860" dy="7.7">Functional</tspan><tspan x="860" dy="7.7">Status</tspan><tspan x="860" dy="7.7">Assessments</tspan></text></g>
<g id="n-TN"><rect class="y" x="913.7" y="960.7" width="48" height="24"/><text x="937.7" y="974.7">[TN] Triage Note</text></g>
<g id="n-EDPN"><rect class="y" x="760.7" y="994.7" width="43.6" height="19.3"/><text x="782.5" y="1002.5"><tspan x="782.5">[EDPN] ED</tspan><tspan x="782.5" dy="7.7">Physician Note</tspan></text></g>
<g id="n-APE"><rect class="y" x="913.7" y="992" width="48" height="24.3"/><text x="937.7" y="1002.3"><tspan x="937.7">[APE] Antepartum</tspan><tspan x="937.7" dy="7.7">Education</tspan></text></g>
<g id="n-CTNN"><rect class="y" x="838.3" y="1002.7" width="43.7" height="31"/><text x="860" y="1008.6"><tspan x="860">[CTNN]</tspan><tspan x="860" dy="7.7">Composite</tspan><tspan x="860" dy="7.7">Triage and</tspan><tspan x="860" dy="7.7">Nursing Note</tspan></text></g>
<g id="n-APHP"><rect class="y" x="760.7" y="1018.7" width="43.6" height="31.6"/><text x="782.5" y="1025"><tspan x="782.5">[APHP]</tspan><tspan x="782.5" dy="7.7">Antepartum</tspan><tspan x="782.5" dy="7.7">History and</tspan><tspan x="782.5" dy="7.7">Physical</tspan></text></g>
<g id="n-APS"><rect class="y" x="913.7" y="1023.7" width="48" height="24"/><text x="937.7" y="1033.9"><tspan x="937.7">[APS] Antepartum</tspan><tspan x="937.7" dy="7.7">Summary</tspan></text></g>
<g id="n-APL"><rect class="y" x="838.3" y="1038.3" width="43.7" height="24.4"/><text x="860" y="1044.8"><tspan x="860">[APL]</tspan><tspan x="860" dy="7.7">Antepartum</tspan><tspan x="860" dy="7.7">Laboratory</tspan></text></g>
<g id="n-LDHP"><rect class="y" x="760.7" y="1055.3" width="43.6" height="31.7"/><text x="782.5" y="1061.6"><tspan x="782.5">[LDHP] Labor</tspan><tspan x="782.5" dy="7.7">and Delivery</tspan><tspan x="782.5" dy="7.7">History and</tspan><tspan x="782.5" dy="7.7">Physical</tspan></text></g>
<g id="n-MDS"><rect class="y" x="913.7" y="1055.3" width="48" height="24"/><text x="937.7" y="1061.6"><tspan x="937.7">[MDS] Maternal</tspan><tspan x="937.7" dy="7.7">Discharge</tspan><tspan x="937.7" dy="7.7">Summary</tspan></text></g>
<g id="n-LDS"><rect class="y" x="838.3" y="1067.3" width="43.7" height="24"/><text x="860" y="1073.6"><tspan x="860">[LDS] Labor</tspan><tspan x="860" dy="7.7">and Delivery</tspan><tspan x="860" dy="7.7">Summary</tspan></text></g>

<g id="anatomic-pathology"><rect class="or" x="394.3" y="917" width="61.4" height="24"/><text x="425" y="931">Anatomic Pathology</text></g>
<g id="n-APSR"><rect class="y" x="305" y="917" width="70.3" height="24.3"/><text x="340" y="923.4"><tspan x="340">[APY].[APSR] Anatomic</tspan><tspan x="340" dy="7.7">Pathology Structured</tspan><tspan x="340" dy="7.7">Report</tspan></text></g>
<g id="n-ARPH"><rect class="y" x="472.3" y="919.3" width="66" height="24.4"/><text x="505" y="925.8"><tspan x="505">[APY].[ARPH] Anatomic</tspan><tspan x="505" dy="7.7">Pathology Reporting to</tspan><tspan x="505" dy="7.7">Public Health</tspan></text></g>
<g id="n-APW"><rect class="y" x="389.3" y="955.3" width="70.7" height="24.7"/><text x="425" y="965.8"><tspan x="425">[APY].[APW] Anatomic</tspan><tspan x="425" dy="7.7">Pathology Workflow</tspan></text></g>

<g id="pharmacy"><rect class="or" x="402.3" y="1028.3" width="44" height="24.4"/><text x="424.5" y="1042.7">Pharmacy</text></g>
<g id="n-CMPD"><rect class="y" x="312.3" y="1028.3" width="73.4" height="24.4"/><text x="349" y="1034.8"><tspan x="349">[CMPD] Community</tspan><tspan x="349" dy="7.7">Medication Prescription</tspan><tspan x="349" dy="7.7">and Dispense</tspan></text></g>
<g id="n-DIS"><rect class="y" x="332.3" y="1059.7" width="53.4" height="24.6"/><text x="358" y="1066.3"><tspan x="358">[DIS] Pharmacy</tspan><tspan x="358" dy="7.7">Dispense</tspan><tspan x="358" dy="7.7">Document</tspan></text></g>
<g id="n-PRE"><rect class="y" x="402.3" y="1069.3" width="44" height="24.4"/><text x="424.3" y="1075.8"><tspan x="424.3">[PRE]</tspan><tspan x="424.3" dy="7.7">Pharmacy</tspan><tspan x="424.3" dy="7.7">Prescription</tspan></text></g>
<g id="n-PADV"><rect class="y" x="462.7" y="1028.3" width="58.6" height="24.4"/><text x="492" y="1034.8"><tspan x="492">[PADV] Pharmacy</tspan><tspan x="492" dy="7.7">Pharmaceutical</tspan><tspan x="492" dy="7.7">Advice Document</tspan></text></g>
<g id="n-HMW"><rect class="y" x="462.7" y="1059.7" width="51" height="24.6"/><text x="488" y="1066.3"><tspan x="488">[HMW] Hospital</tspan><tspan x="488" dy="7.7">Medication</tspan><tspan x="488" dy="7.7">Workflow</tspan></text></g>

<g id="connectors">
<!-- solid, inside the groups -->
<path class="s" d="M77.5,194.3H101.8"/><path class="s" d="M77.5,205H101.8"/>
<path class="s" d="M25,298.2V284.2"/><path class="s" d="M55.3,298.2V284.2"/><path class="s" d="M75.2,318H109.7V277.5"/><path class="s" d="M25,324.8V342.5"/><path class="s" d="M35,324.8L35.7,342.5"/><path class="s" d="M46,324.8V342.5"/><path class="s" d="M75.2,348.7H105.8"/><path class="s" d="M105.8,359H75.2"/><path class="s" d="M106.5,369.3L75.2,369"/>
<path class="s" d="M66,444.2L66.3,457.8"/><path class="s" d="M110.5,467.7H89.5"/><path class="s" d="M89.5,481.7H110.5"/>
<path class="s" d="M71.3,571.5V592.5"/><path class="s" d="M88.3,571.5L88,592.5"/><path class="s" d="M105,571.5V592.5"/><path class="s" d="M122,592.5V571.5"/>
<path class="s" d="M80.2,689.7H116.5"/>
<path class="s" d="M31,783.2V800.2"/><path class="s" d="M65,783.2V800.2"/><path class="s" d="M92.2,810.3H109.5"/><path class="s" d="M92.2,827H109.5"/>
<path class="s" d="M88.5,901H112.5"/>
<path class="s" d="M332.8,210H312.2"/><path class="s" d="M332.8,223.7L312.2,223.3"/>
<path class="s" d="M345.8,277.3H298.2"/><path class="s" d="M345.8,287.7H298.2"/>
<path class="s" d="M343.2,354.3H304.8"/>
<path class="sb" d="M262.2,367L235.7,405V493.3H252.8"/><path class="sb" d="M264.2,367.5L265.7,409.2"/><path class="sb" d="M266.8,366.5L337.8,414"/>
<path class="sb" d="M259.2,445.8L259.8,463.5"/><path class="s" d="M308.8,445.5L342.6,490.5"/><path class="s" d="M314.2,493.3H341.2"/><path class="sb" d="M344.1,446.2L344.6,489.8"/>
<path class="s" d="M298,567.8V585.2"/><path class="s" d="M349,568.5V585.2"/>
<path class="s" d="M318.2,674.3L338.2,674"/><path class="s" d="M254,701.2L253.7,715.5"/><path class="s" d="M274,701.2L273.7,715.5"/><path class="s" d="M317.4,699.9L339.3,716.8"/>
<path class="s" d="M316.5,816H338.2"/>
<path class="s" d="M516,221.5L515.7,235.5"/><path class="s" d="M532.7,221.5V235.5"/><path class="s" d="M586.5,242H566.2"/><path class="s" d="M563,279.8L562.7,262.2"/><path class="s" d="M508.5,286H526.2"/><path class="s" d="M630.7,262.2V286.3H586.5"/>
<path class="s" d="M527.2,363.7H560.8"/>
<path class="s" d="M528.5,434.3L566.5,434.7"/><path class="s" d="M528.5,481.7H565.8"/>
<path class="s" d="M530.8,579H561.5"/><path class="s" d="M530.2,613.5L562.5,581.5"/>
<path class="s" d="M480.7,723.8V740.8"/><path class="s" d="M558.7,730.2V754H511.5"/><path class="s" d="M511.5,764H599V730.2"/>
<path class="s" d="M521.8,819.7H503.8"/>
<path class="s" d="M744.8,148H768.5"/><path class="s" d="M768.5,158H744.8"/><path class="s" d="M769.8,173.3L744.2,190"/><path class="s" d="M789,174.8L789.3,188.5"/><path class="s" d="M806.3,188.5V174.8"/>
<path class="s" d="M774.8,279.3H751.2"/>
<path class="s" d="M754.2,347.7H773.2"/>
<path class="s" d="M746.2,428.3H777.2"/><path class="s" d="M777.2,438.3H746.2"/>
<path class="s" d="M923,182.5L922.7,165.2"/><path class="s" d="M936,165.2V182.5"/><path class="s" d="M952.5,182.5V165.2"/><path class="s" d="M993.8,182.5V165.2"/><path class="s" d="M1007.9,165.2V182.5"/><path class="s" d="M1024.8,182.5V165.2"/>
<path class="s" d="M962.4,255H992.7"/><path class="s" d="M992.7,269H962.4"/>
<path class="s" d="M962.4,317.7H987.5"/><path class="s" d="M962.4,328.3H987.5"/><path class="s" d="M1014.7,337.8V354.8"/>
<path class="s" d="M1192.3,162.5L1192.7,176.5"/><path class="s" d="M1205.6,162.5L1206,176.5"/><path class="s" d="M1219.6,176.5L1219.2,162.5"/><path class="s" d="M1233.3,176.5V162.5"/><path class="s" d="M1246.6,176.5V162.5"/>
<path class="s" d="M1107.5,206.8V220.2"/><path class="s" d="M1121.2,206.8V220.2"/><path class="s" d="M1134.9,206.8V220.2"/><path class="s" d="M1165.4,217.2V206.8"/><path class="s" d="M1182.3,206.8V217.2"/><path class="s" d="M1202.4,206.8V217.2"/><path class="s" d="M1232.9,206.8L1233.3,217.2"/><path class="s" d="M1246.6,206.8V217.2"/><path class="s" d="M1259.8,206.8V217.2"/><path class="s" d="M1273.9,206.8V217.2"/>

<!-- IT Infrastructure -->
<path class="d" d="M431.3,80L384,96"/>
<path class="d" d="M616,95.3H420L384,104"/>
<path class="e" d="M503,86L501,95.3"/><path class="e" d="M560,86L558,95.3"/><path class="e" d="M618,85.3L616,95.3"/>
<path class="e" d="M509,95.3L511.7,102.7"/><path class="e" d="M568,95.3L570,102.7"/><path class="e" d="M616,95.3L625,102.7"/>
<path class="d" d="M431.3,115H384"/>
<path class="d" d="M613,131.7H430L412,131.7L384,126.7"/>
<path class="e" d="M512.7,131.7L513.7,139.3"/><path class="e" d="M562,131.7L565,139.3"/><path class="e" d="M611,131.7L615,139.3"/>
<path class="d" d="M432,145.5L384,132.5"/>
<path class="d" d="M168,171L266.7,137"/>
<path class="d" d="M199,943V167.5L274,137"/>
<path class="e" d="M182.3,281L199,275"/><path class="e" d="M181.7,393.3L199,383"/><path class="e" d="M186.7,516L199,506.7"/><path class="e" d="M186.7,647.3L199,641.7"/><path class="e" d="M178.3,735L199,721"/><path class="e" d="M168.3,863.3L199,846.7"/><path class="e" d="M180,950.7L199,943"/>
<path class="d" d="M208.3,795.7V175.7L281.7,137.7"/>
<path class="e" d="M230.3,260L208.3,252"/><path class="e" d="M230.3,328.3L208.3,321.7"/><path class="e" d="M229,425.7L208.3,418.3"/><path class="e" d="M230.3,552.7L208.3,545"/><path class="e" d="M234,678.3L208.3,671.7"/><path class="e" d="M235.7,802.3L208.3,795.7"/>
<path class="d" d="M323.5,182.7L325,137.7"/>
<path class="d" d="M441.7,184L358.3,137.3"/>
<path class="d" d="M424.3,796.7V184L365,137.7"/>
<path class="e" d="M424.3,343.3L442,347.7"/><path class="e" d="M424.3,441L443.3,446.7"/><path class="e" d="M424.3,568.3L443.3,570"/><path class="e" d="M424.3,695L443.3,697.3"/><path class="e" d="M424.3,796.7L443.3,804.3"/>
<!-- Laboratory -->
<path class="d" d="M808.3,117.3L840.7,77.7"/>
<path class="d" d="M857.3,400V106.7L858.8,77.5"/>
<path class="e" d="M843.3,251.7L857.3,246"/><path class="e" d="M840,320.7L857.3,315"/><path class="e" d="M845,405L857.3,400"/>
<path class="d" d="M876.9,435V120L874,115L866.9,77.5"/>
<path class="e" d="M894.2,244L876.9,238.3"/><path class="e" d="M895,331L876.9,328.3"/><path class="e" d="M896.6,409L876.9,403"/><path class="e" d="M974.1,434.3H898L876.9,426.7"/><path class="e" d="M896.6,442.7L876.9,435"/>
<path class="d" d="M920.3,117.3L884.2,77.5"/>
<!-- Radiation Oncology -->
<path class="d" d="M1253.8,117.3L1292.8,80.7"/>
<path class="d" d="M1308.3,316.7V100L1311.6,81"/>
<path class="e" d="M1308.3,130.7L1322.3,134"/><path class="e" d="M1308.3,180L1322.3,183.3"/><path class="e" d="M1308.3,225L1322.3,231"/><path class="e" d="M1308.3,276.7L1322.3,279"/><path class="e" d="M1308.3,315L1322.3,318.3"/>
<path class="d" d="M1448.3,100.7L1436.7,90L1376,72.7"/>
<path class="e" d="M1436.7,338.3V90"/>
<path class="e" d="M1436.7,140L1448.3,147.3"/><path class="e" d="M1436.7,190L1448.3,195"/><path class="e" d="M1436.7,250L1448.3,252.3"/><path class="e" d="M1436.7,299.3L1448.3,300.7"/><path class="e" d="M1436.7,338.3L1448.3,340"/>
<path class="d" d="M1426.3,355V97.3L1376,81.7"/>
<path class="e" d="M1414.3,134L1426.3,132.3"/><path class="e" d="M1414.3,182.7L1426.3,180.7"/><path class="e" d="M1414.3,220.7L1426.3,218.3"/><path class="e" d="M1414.3,268.3L1426.3,266.7"/><path class="e" d="M1414.3,316.7L1426.3,316"/><path class="e" d="M1414.3,356L1426.3,355"/>
<!-- Eye Care -->
<path class="d" d="M1204,446.3H1223.3"/><path class="d" d="M1204,466.3L1223.3,457.7"/><path class="d" d="M1283.7,449.7L1266.7,447.7"/><path class="d" d="M1245,470.3V458.3"/><path class="d" d="M1283.7,470L1264.3,458.3"/>
<path class="d" d="M1204,501.7L1212.7,497.3V471.7L1230,459"/><path class="e" d="M1223.3,502.7L1212.7,497.3"/>
<!-- Quality -->
<path class="d" d="M1167.7,602H1218.3"/><path class="d" d="M1308,602H1262.3"/><path class="d" d="M1167.7,624L1218.3,610"/><path class="d" d="M1308,626.7L1262.3,611.7"/><path class="d" d="M1218.3,643.3L1232.7,614.5"/><path class="d" d="M1257.3,642.7L1245.7,614.5"/>
<path class="d" d="M1179.3,713.3V633.3L1218.3,613.3"/>
<path class="e" d="M1167.7,658.3L1179.3,654.3"/><path class="e" d="M1167.7,688.3L1179.3,683.3"/><path class="e" d="M1186.7,679.3L1179.3,676.7"/><path class="e" d="M1187.3,718.3L1179.3,713.3"/>
<path class="d" d="M1298,724V635L1262.3,614.3"/>
<path class="e" d="M1308,667.3L1298,663.3"/><path class="e" d="M1286.3,677.3L1298,675"/><path class="e" d="M1308,697.3L1298,695"/><path class="e" d="M1286.3,706L1298,703.3"/><path class="e" d="M1293.3,728.3L1298,724"/>
<!-- Radiology -->
<path class="d" d="M1153.7,844H1223.3"/><path class="d" d="M1341.3,843.7H1267"/><path class="d" d="M1153.7,868.3L1223.3,850.7"/><path class="d" d="M1150,895.3L1223.3,855"/><path class="d" d="M1218.3,897.7L1236.7,856.7"/><path class="d" d="M1269,897.7L1250.7,856.7"/><path class="d" d="M1342.3,870L1267,850"/>
<path class="d" d="M1167.3,1055V895L1225,858"/>
<path class="e" d="M1150.7,932.3L1167.3,928.3"/><path class="e" d="M1187.3,932.3L1167.3,928.3"/><path class="e" d="M1150.7,961.7L1167.3,957.3"/><path class="e" d="M1187.3,961.7L1167.3,957.3"/><path class="e" d="M1150.7,998L1167.3,997.3"/><path class="e" d="M1187.3,990.3L1167.3,985.7"/><path class="e" d="M1150.7,1028.3L1167.3,1025.7"/><path class="e" d="M1187.3,1019.3L1167.3,1015"/><path class="e" d="M1187.3,1048.3L1167.3,1043.3"/><path class="e" d="M1150.7,1058.3L1167.3,1055"/>
<path class="d" d="M1322.3,1075V880.7L1267,853.3"/>
<path class="e" d="M1341.7,906.7L1322.3,900"/><path class="e" d="M1303.3,932.3L1322.3,928.3"/><path class="e" d="M1341.7,944L1322.3,938.3"/><path class="e" d="M1303.3,961.3L1322.3,958.3"/><path class="e" d="M1341.7,972.3L1322.3,968.3"/><path class="e" d="M1303.3,990L1322.3,987.3"/><path class="e" d="M1341.7,1009.3L1322.3,1006.7"/><path class="e" d="M1303.3,1019.3L1322.3,1016.7"/><path class="e" d="M1341.7,1039.3L1322.3,1035.7"/><path class="e" d="M1303.3,1048.3L1322.3,1045.7"/><path class="e" d="M1340.3,1069L1322.3,1064.3"/><path class="e" d="M1303.3,1077.3L1322.3,1075"/>
<!-- Patient Care Device -->
<path class="d" d="M826.3,532H840.7"/><path class="d" d="M898.3,532H884.3"/><path class="d" d="M862.3,558.7V544.3"/><path class="d" d="M825.7,558.7L846,545"/><path class="d" d="M905,558.7L880.7,544.3"/>
<path class="e" d="M823.3,602.3L833.3,600V551.7"/>
<path class="e" d="M896.3,621.7V555L880.7,544.3"/>
<path class="e" d="M884.3,594L896.3,592.3"/><path class="e" d="M884.3,623.3L896.3,621.7"/><path class="e" d="M908.7,605L896.3,601.7"/>
<!-- Cardiology -->
<path class="d" d="M813.3,708.7H827.3"/><path class="d" d="M812.7,726.7L829,720.7"/><path class="d" d="M859.3,754.7V720.7"/><path class="d" d="M906.3,709.3H892"/><path class="d" d="M906.3,728L890,720.7"/>
<path class="d" d="M811.7,754.7L823.3,748.3L847.3,721.7"/><path class="e" d="M811.7,786.7L823.3,783.3V748.3"/>
<path class="d" d="M906.3,758.3L894,751.7L869.3,721.7"/><path class="e" d="M894,786.7V751.7"/>
<path class="e" d="M881.7,788.3L894,786.7"/><path class="e" d="M906.3,788.3L894,786.7"/>
<!-- Patient Care Coordination -->
<path class="d" d="M804.3,878H838.3"/><path class="d" d="M913.3,878H882"/><path class="d" d="M804.3,901.7L838.3,888.3"/><path class="d" d="M913.7,900.7L882,888.3"/><path class="d" d="M860,902.3V890.3"/>
<path class="d" d="M821.7,1069.3V909.3L845,890.3"/>
<path class="e" d="M804.3,939.3L821.7,934"/><path class="e" d="M838.3,946L821.7,941"/><path class="e" d="M804.3,968.3L821.7,963.3"/><path class="e" d="M838.3,976L821.7,971.7"/><path class="e" d="M804.3,996L821.7,991.7"/><path class="e" d="M838.3,1013.3L821.7,1011.7"/><path class="e" d="M804.3,1025.7L821.7,1021.7"/><path class="e" d="M838.3,1043.3L821.7,1040"/><path class="e" d="M804.3,1062.7L821.7,1060"/><path class="e" d="M838.3,1071.7L821.7,1069.3"/>
<path class="d" d="M896.3,1054V910L874,890.3"/>
<path class="e" d="M913.7,931.7L896.3,928.3"/><path class="e" d="M913.7,963.3L896.3,958.3"/><path class="e" d="M913.7,997.7L896.3,996"/><path class="e" d="M913.7,1029L896.3,1025.7"/><path class="e" d="M913.7,1059.3L896.3,1054"/>
<!-- Anatomic Pathology, Pharmacy -->
<path class="d" d="M375.3,928.3H394.3"/><path class="d" d="M472.3,930H455.7"/><path class="d" d="M425,955.3V941"/>
<path class="d" d="M385.7,1040.3H402.3"/><path class="d" d="M462.7,1040.3H446.3"/><path class="d" d="M384,1060.7L402.3,1051.7"/><path class="d" d="M424.3,1069.3V1052.7"/><path class="d" d="M462.7,1060.7L446.3,1050.7"/>
</g>
<text class="big" x="1388" y="1123">Deta</text>
</svg>
